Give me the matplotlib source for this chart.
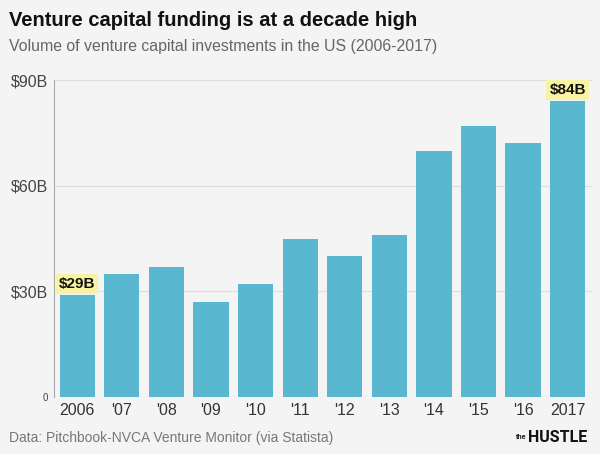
import matplotlib
matplotlib.use("Agg")
import matplotlib.pyplot as plt

years = ["2006", "'07", "'08", "'09", "'10", "'11", "'12", "'13", "'14", "'15", "'16", "2017"]
values = [29, 35, 37, 27, 32, 45, 40, 46, 70, 77, 72, 84]
yticks = [0, 30, 60, 90]
ytick_labels = ["0", "$30B", "$60B", "$90B"]
labels = {0: "$29B", 11: "$84B"}

plt.rcParams['font.family'] = ['Liberation Sans', 'DejaVu Sans']
bg = "#f4f4f4"
fig = plt.figure(figsize=(6, 4.54), dpi=100, facecolor=bg)
ax = fig.add_axes([0.09, 0.1256, 0.897, 0.698], facecolor=bg)

x = list(range(len(years)))
ax.bar(x, values, width=0.79, color="#5ab7d0", zorder=3)
ax.set_xlim(-0.52, 11.55)
ax.set_ylim(0, 90)
ax.set_yticks(yticks)
ax.set_yticklabels(ytick_labels, fontsize=11.5, color="#444444")
ax.get_yticklabels()[0].set_fontsize(7)
ax.set_xticks(x)
ax.set_xticklabels(years, fontsize=11.5, color="#333333")
ax.tick_params(axis='both', length=0, pad=4)
ax.grid(axis='y', color="#dddddd", linewidth=0.8, zorder=0)
for s in ["top", "right", "bottom"]:
    ax.spines[s].set_visible(False)
ax.spines["left"].set_color("#aaaaaa")
ax.spines["left"].set_linewidth(0.8)

for i, lab in labels.items():
    ax.text(i, values[i] + 1.2, lab, ha='center', va='bottom', fontsize=11,
            fontweight='bold', color="#111111",
            bbox=dict(boxstyle='square,pad=0.2', fc="#f7f3a3", ec='none'), zorder=4)

fig.text(0.015, 0.955, "Venture capital funding is at a decade high", fontsize=14.5,
         fontweight='bold', color="#111111", va='center')
fig.text(0.015, 0.897, "Volume of venture capital investments in the US (2006-2017)",
         fontsize=11.4, color="#666666", va='center')
fig.text(0.015, 0.036, "Data: Pitchbook-NVCA Venture Monitor (via Statista)",
         fontsize=10, color="#777777", va='center')
fig.text(0.86, 0.036, "the", fontsize=5, fontweight='bold', color="#111111", va='center')
fig.text(0.88, 0.036, "HUSTLE", fontsize=11.5, fontweight='bold', color="#111111",
         va='center', family=['Roboto', 'DejaVu Sans'], stretch='condensed')

fig.savefig("out.png", dpi=100, facecolor=bg)
